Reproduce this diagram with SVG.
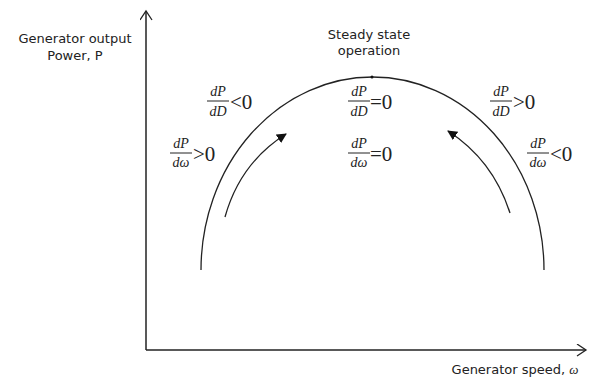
<svg xmlns="http://www.w3.org/2000/svg" width="602" height="378" viewBox="0 0 602 378">
<defs>
<style>
.lbl{font-family:"DejaVu Sans",Verdana,sans-serif;font-size:13px;fill:#222;text-anchor:middle}
.fr{font-family:"Liberation Serif","DejaVu Serif",serif;font-style:italic;font-size:14px;fill:#222;text-anchor:middle}
.rel{font-family:"Liberation Serif","DejaVu Serif",serif;font-size:21px;fill:#222}
.ln{stroke:#222;fill:none}
.bar{stroke:#222;stroke-width:1}
</style>
<marker id="chev" markerWidth="14" markerHeight="14" refX="10" refY="6" orient="auto" markerUnits="userSpaceOnUse">
<path d="M1,0 L10,6 L1,12" fill="none" stroke="#222" stroke-width="1.3"/>
</marker>
<marker id="tri" markerWidth="12" markerHeight="12" refX="9" refY="5" orient="auto" markerUnits="userSpaceOnUse">
<path d="M0,0 L10,5 L0,10 Z" fill="#111"/>
</marker>
</defs>
<rect width="602" height="378" fill="#fff"/>
<g id="connectors">
<path class="ln" stroke-width="1.5" d="M146,350 V11" marker-end="url(#chev)"/>
<path class="ln" stroke-width="1.5" d="M146,350 H586" marker-end="url(#chev)"/>
<path class="ln" stroke-width="1.3" d="M201,270 A171.5,193 0 0 1 544,270"/>
<circle cx="372" cy="77" r="1.5" fill="#111"/>
<path class="ln" stroke-width="1.3" d="M225,217 Q240,163 286,134" marker-end="url(#tri)"/>
<path class="ln" stroke-width="1.3" d="M510,213 Q493,160 448,131" marker-end="url(#tri)"/>
</g>
<g id="ylabel">
<text class="lbl" x="75" y="43">Generator output</text>
<text class="lbl" x="75" y="60">Power, P</text>
</g>
<g id="xlabel">
<text class="lbl" x="515" y="374">Generator speed, <tspan font-style="italic" font-family="Liberation Serif,serif">ω</tspan></text>
</g>
<g id="steady">
<text class="lbl" x="369" y="39">Steady state</text>
<text class="lbl" x="369" y="55">operation</text>
</g>
<g id="f1">
<text class="fr" x="218" y="96">dP</text>
<line class="bar" x1="207" y1="101" x2="229" y2="101"/>
<text class="fr" x="218" y="116">dD</text>
<text class="rel" x="230" y="109">&lt;0</text>
</g>
<g id="f2">
<text class="fr" x="359" y="96">dP</text>
<line class="bar" x1="348" y1="101" x2="370" y2="101"/>
<text class="fr" x="359" y="116">dD</text>
<text class="rel" x="370" y="109">=0</text>
</g>
<g id="f3">
<text class="fr" x="501" y="96">dP</text>
<line class="bar" x1="490" y1="101" x2="512" y2="101"/>
<text class="fr" x="501" y="116">dD</text>
<text class="rel" x="513" y="109">&gt;0</text>
</g>
<g id="f4">
<text class="fr" x="181" y="148">dP</text>
<line class="bar" x1="170" y1="153" x2="192" y2="153"/>
<text class="fr" x="181" y="167">dω</text>
<text class="rel" x="193" y="161">&gt;0</text>
</g>
<g id="f5">
<text class="fr" x="359" y="148">dP</text>
<line class="bar" x1="348" y1="153" x2="370" y2="153"/>
<text class="fr" x="359" y="167">dω</text>
<text class="rel" x="370" y="161">=0</text>
</g>
<g id="f6">
<text class="fr" x="538" y="148">dP</text>
<line class="bar" x1="527" y1="153" x2="549" y2="153"/>
<text class="fr" x="538" y="167">dω</text>
<text class="rel" x="550" y="161">&lt;0</text>
</g>
</svg>
